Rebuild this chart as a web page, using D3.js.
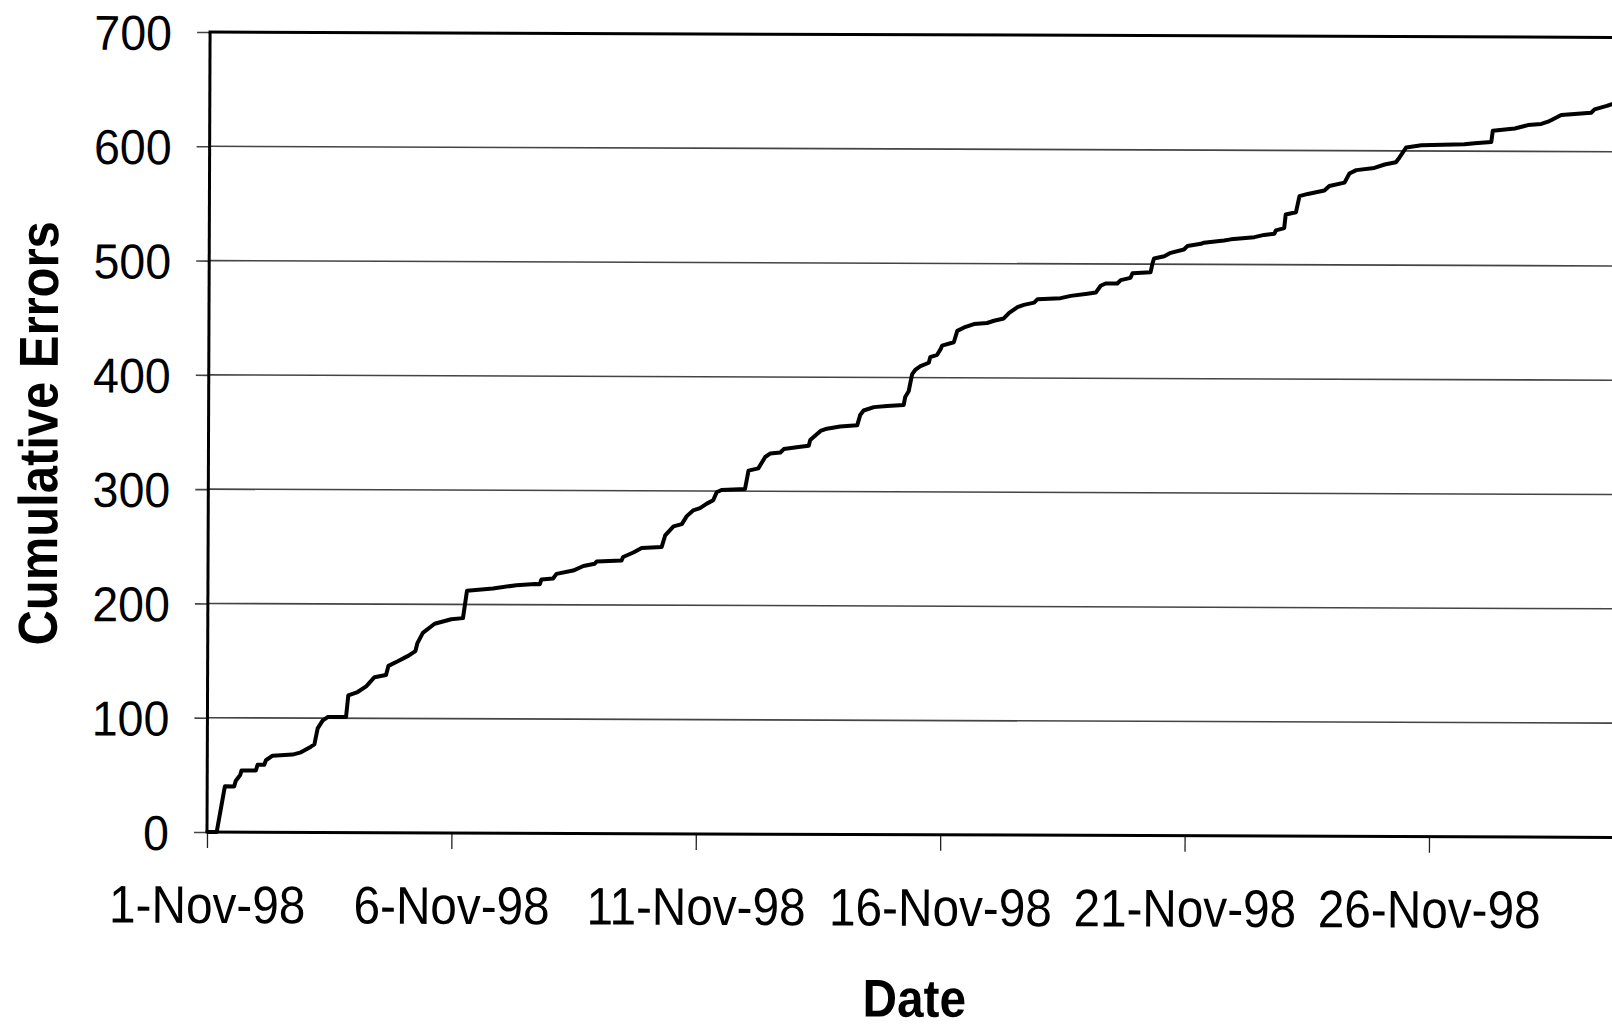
<!DOCTYPE html>
<html><head><meta charset="utf-8">
<script src="https://cdn.jsdelivr.net/npm/d3@7/dist/d3.min.js"></script>
<style>html,body{margin:0;padding:0;background:#fff;overflow:hidden}</style>
</head><body>
<script>
// ---- data ----
const startDate = new Date(1998, 10, 1);
const endDate = new Date(1998, 11, 1);
const tickDates = [new Date(1998,10,1), new Date(1998,10,6), new Date(1998,10,11), new Date(1998,10,16), new Date(1998,10,21), new Date(1998,10,26)];
const tickLabels = ["1-Nov-98","6-Nov-98","11-Nov-98","16-Nov-98","21-Nov-98","26-Nov-98"];
const yTicks = [0,100,200,300,400,500,600,700];
// time since 1-Nov-98 00:00, in days
const dayOffsets = [0.198,0.362,0.552,0.586,0.675,0.702,0.995,1.03,1.166,1.2,1.336,1.745,1.915,2.12,2.19,2.256,2.36,2.46,2.835,2.88,3.07,3.245,3.415,3.65,3.70,3.89,4.11,4.25,4.29,4.40,4.64,4.98,5.22,5.30,5.83,6.31,6.69,6.79,6.82,7.06,7.13,7.47,7.68,7.91,7.95,8.46,8.49,8.70,8.87,9.28,9.35,9.52,9.69,9.79,9.92,10.06,10.20,10.33,10.40,10.50,10.98,11.05,11.25,11.39,11.49,11.70,11.77,12.11,12.28,12.31,12.52,12.65,12.92,13.27,13.33,13.40,13.61,13.88,14.22,14.25,14.32,14.39,14.46,14.56,14.73,14.76,14.90,14.97,15.00,15.24,15.31,15.45,15.65,15.92,16.06,16.26,16.37,16.54,16.67,16.88,16.95,17.42,17.63,17.97,18.14,18.24,18.34,18.58,18.65,18.85,18.89,19.26,19.30,19.33,19.54,19.67,19.94,20.01,20.29,20.35,20.76,20.90,21.38,21.58,21.79,21.82,21.99,22.02,22.23,22.30,22.47,22.81,22.91,23.22,23.32,23.46,23.83,24.04,24.27,24.34,24.48,24.79,25.67,25.88,26.22,26.25,26.70,26.97,27.24,27.38,27.65,28.26,28.33,28.58,28.71,28.80];
const cumulativeErrors = [0,40,40,45,50,54,54,59,59,63,67,68,70,75,77,91,98,101,101,120,123,128,136,138,146,150,155,159,166,175,183,187,188,212,214,217,218,218,222,223,227,230,234,236,238,239,242,246,250,251,261,269,271,278,283,285,289,292,299,301,302,318,320,330,333,334,337,339,340,345,353,355,357,358,367,371,374,375,376,383,388,403,407,410,413,418,420,425,428,431,441,444,447,448,450,452,457,462,464,466,469,470,472,474,475,481,483,483,486,488,492,493,501,505,507,510,513,516,518,519,521,522,524,526,527,530,532,544,546,560,562,565,569,572,580,583,585,588,590,594,603,605,606,607,608,618,620,623,624,626,632,634,637,640,642,642];

// ---- layout ----
const W = 1612, H = 1030;
const x0 = 207, yBottom = 832, yTop = 32, dayPx = 48.88;
const font = "'Liberation Sans', Arial, Helvetica, sans-serif";

const svg = d3.select("body").append("svg")
  .attr("width", W).attr("height", H)
  .style("display","block").style("background","#fff");

const g = svg.append("g").attr("transform", `rotate(0.22, ${x0}, ${yBottom})`);

const x = d3.scaleTime().domain([startDate, endDate]).range([x0, x0 + 30*dayPx]);
const y = d3.scaleLinear().domain([0, 700]).range([yBottom, yTop]);

// gridlines
g.append("g").selectAll("line").data(yTicks.filter(v => v > 0 && v < 700)).join("line")
  .attr("x1", x0).attr("x2", x(endDate))
  .attr("y1", d => y(d)).attr("y2", d => y(d))
  .attr("stroke", "#444").attr("stroke-width", 1.6);

// y axis
const yAxis = g.append("g").attr("transform", `translate(${x0},0)`)
  .call(d3.axisLeft(y).tickValues(yTicks).tickSize(13).tickPadding(25).tickFormat(d3.format("d")));
yAxis.select(".domain").remove();
yAxis.selectAll(".tick line").attr("stroke", "#444").attr("stroke-width", 1.6);
yAxis.selectAll(".tick text")
  .attr("font-family", font).attr("font-size", 49).attr("fill", "#000")
  .attr("dy", "0.36em")
  .attr("transform", "scale(0.95,1)")
  .attr("x", -(13+25)/0.95);

// x axis
const xAxis = g.append("g").attr("transform", `translate(0,${yBottom})`)
  .call(d3.axisBottom(x).tickValues(tickDates).tickSize(16).tickPadding(0)
        .tickFormat((d, i) => tickLabels[i]));
xAxis.select(".domain").remove();
xAxis.selectAll(".tick line").attr("stroke", "#222").attr("stroke-width", 1.3);
xAxis.selectAll(".tick text")
  .attr("font-family", font).attr("font-size", 53).attr("fill", "#000")
  .attr("y", 91).attr("dy", 0)
  .attr("transform", "scale(0.9,1)");

// plot frame: left, bottom, top
g.append("line").attr("x1", x0).attr("x2", x0).attr("y1", y(700)).attr("y2", y(0))
  .attr("stroke", "#000").attr("stroke-width", 3);
g.append("line").attr("x1", x0 - 1.5).attr("x2", x(endDate)).attr("y1", y(0)).attr("y2", y(0))
  .attr("stroke", "#000").attr("stroke-width", 3);
g.append("line").attr("x1", x0 - 1.5).attr("x2", x(endDate)).attr("y1", y(700)).attr("y2", y(700))
  .attr("stroke", "#000").attr("stroke-width", 3);

// the cumulative curve
const pts = dayOffsets.map((d, i) => [new Date(startDate.getTime() + d*86400000), cumulativeErrors[i]]);
const line = d3.line().x(d => x(d[0])).y(d => y(d[1]));
g.append("path").datum([[startDate, 0], ...pts]).attr("d", line)
  .attr("fill", "none").attr("stroke", "#000").attr("stroke-width", 4)
  .attr("stroke-linejoin", "round");

// axis titles
g.append("text").text("Cumulative Errors")
  .attr("font-family", font).attr("font-weight", "bold").attr("font-size", 55)
  .attr("text-anchor", "middle")
  .attr("transform", "translate(56,434) rotate(-90) scale(0.89,1)");
g.append("text").text("Date")
  .attr("font-family", font).attr("font-weight", "bold").attr("font-size", 53)
  .attr("text-anchor", "middle")
  .attr("transform", "translate(915,1014) scale(0.9,1)");
</script>
</body></html>
